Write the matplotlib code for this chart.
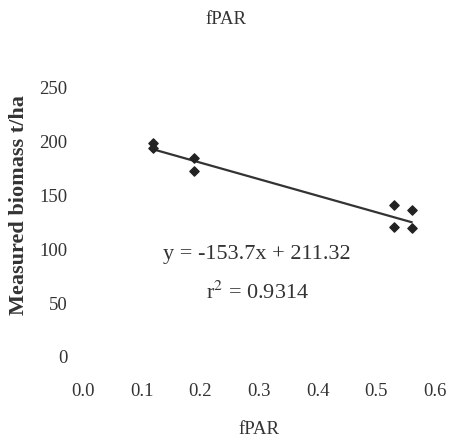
import matplotlib.pyplot as plt
import numpy as np

# measured points
fpar = [0.12, 0.12, 0.19, 0.19, 0.53, 0.53, 0.56, 0.56]
biomass = [199, 194, 185, 173, 141, 121, 137, 120]

# regression line as printed on the chart
slope, intercept = -153.7, 211.32
r2 = 0.9314

x_ticks = [0.0, 0.1, 0.2, 0.3, 0.4, 0.5, 0.6]
y_ticks = [0, 50, 100, 150, 200, 250]

plt.rcParams['font.family'] = ['Liberation Serif', 'DejaVu Serif']
plt.rcParams['mathtext.fontset'] = 'stix'
txt = '#333333'

fig = plt.figure(figsize=(4.51, 4.44), dpi=100)
ax = fig.add_axes([0.184, 0.196, 0.7805, 0.606])

ax.scatter(fpar, biomass, marker='D', s=22, color='#222222', zorder=3)
xl = np.array([min(fpar), max(fpar)])
ax.plot(xl, slope * xl + intercept, color='#333333', lw=1.6)

ax.set_xlim(0, 0.6)
ax.set_ylim(0, 250)
ax.set_xticks(x_ticks)
ax.set_xticklabels([f'{v:.1f}' for v in x_ticks])
ax.set_yticks(y_ticks)
for s in ax.spines.values():
    s.set_visible(False)
ax.tick_params(length=0, labelsize=13.5, labelcolor=txt)
ax.tick_params(axis='x', pad=19)
ax.tick_params(axis='y', pad=11)

ax.set_xlabel('fPAR', fontsize=13.5, color=txt, labelpad=15)
# y label placed by hand, it sits close to the left edge
fig.text(19 / 451, 1 - 205 / 444, 'Measured biomass t/ha', rotation=90, ha='center', va='center',
         fontsize=16, fontweight='bold', color=txt)
fig.text(0.5, 0.955, 'fPAR', ha='center', va='center', fontsize=13.5, color=txt)

ax.text(0.297, 95, f'y = {slope}x + {intercept}', ha='center', va='center', fontsize=16, color=txt)
ax.text(0.298, 60, f'r$^2$ = {r2}', ha='center', va='center', fontsize=16, color=txt)

fig.savefig('out.png')
